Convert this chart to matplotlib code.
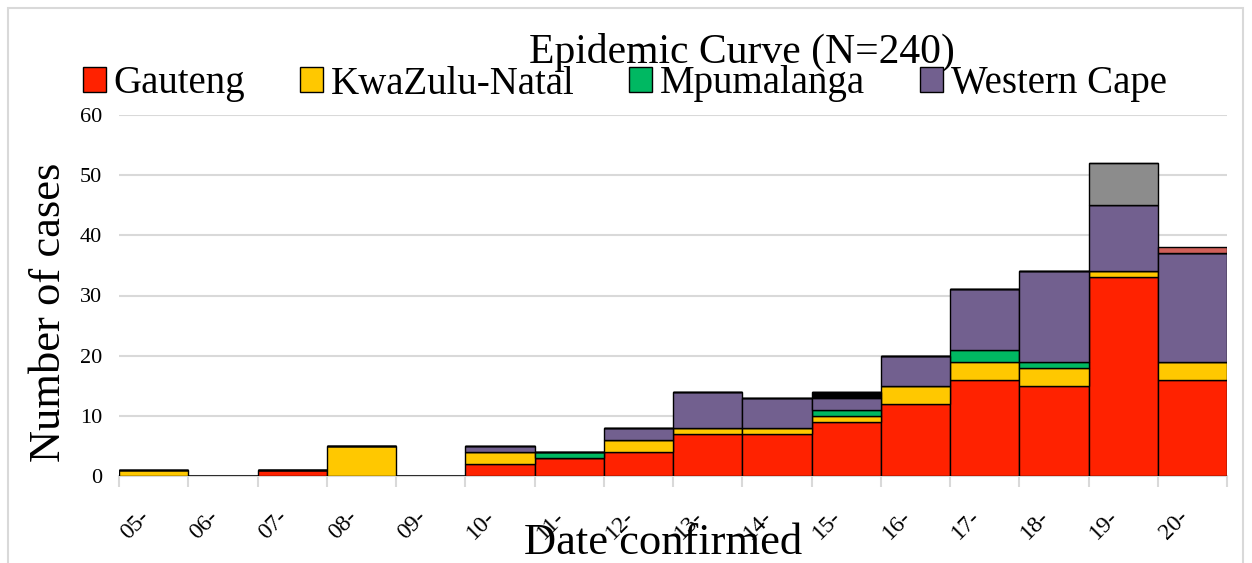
import numpy as np
import matplotlib
matplotlib.use('Agg')
import matplotlib.pyplot as plt
from matplotlib.patches import Rectangle

dates = ['05-', '06-', '07-', '08-', '09-', '10-', '11-', '12-',
         '13-', '14-', '15-', '16-', '17-', '18-', '19-', '20-']
gauteng = [0, 0, 1, 0, 0, 2, 3, 4, 7, 7, 9, 12, 16, 15, 33, 16]
kzn = [1, 0, 0, 5, 0, 2, 0, 2, 1, 1, 1, 3, 3, 3, 1, 3]
mpumalanga = [0, 0, 0, 0, 0, 0, 1, 0, 0, 0, 1, 0, 2, 1, 0, 0]
western_cape = [0, 0, 0, 0, 0, 1, 0, 2, 6, 5, 2, 5, 10, 15, 11, 18]
# extra series drawn in the chart but missing from the legend
other_black = [0, 0, 0, 0, 0, 0, 0, 0, 0, 0, 1, 0, 0, 0, 0, 0]
other_grey = [0, 0, 0, 0, 0, 0, 0, 0, 0, 0, 0, 0, 0, 0, 7, 0]
other_red = [0, 0, 0, 0, 0, 0, 0, 0, 0, 0, 0, 0, 0, 0, 0, 1]

series = [
    ('Gauteng', gauteng, '#ff2200'),
    ('KwaZulu-Natal', kzn, '#ffc800'),
    ('Mpumalanga', mpumalanga, '#00b862'),
    ('Western Cape', western_cape, '#72608f'),
    (None, other_black, '#000000'),
    (None, other_grey, '#8c8c8c'),
    (None, other_red, '#d0605a'),
]

plt.rcParams['font.family'] = ['Liberation Serif', 'DejaVu Serif']

fig = plt.figure(figsize=(12.52, 5.63), dpi=100)
fig.patches.append(Rectangle((8 / 1252, -0.1), 1235 / 1252, 1.1 - 8 / 563,
                             transform=fig.transFigure, fill=False,
                             edgecolor='#d9d9d9', linewidth=1.5))
ax = fig.add_axes([119 / 1252, (563 - 476) / 563, 1108 / 1252, 361 / 563])

x = np.arange(len(dates))
bottom = np.zeros(len(dates))
for name, vals, color in series:
    vals = np.array(vals, dtype=float)
    ax.bar(x, vals, width=1.0, bottom=bottom, color=color, edgecolor='black',
           linewidth=1.0, label=name if name else '_nolegend_', zorder=3)
    bottom += vals

ax.set_xlim(-0.5, len(dates) - 0.5)
ax.set_ylim(0, 60)
ax.set_yticks(range(0, 61, 10))
ax.yaxis.grid(True, color='#d9d9d9', linewidth=1.5, zorder=0)
ax.tick_params(axis='y', length=0, labelsize=16, pad=12)

ax.set_xticks(x)
ax.set_xticklabels(dates, rotation=45, ha='right', fontsize=17)
ax.set_xticks(np.arange(-0.5, len(dates), 1.0), minor=True)
ax.tick_params(axis='x', which='major', length=0, pad=22)
ax.tick_params(axis='x', which='minor', length=8, color='#d9d9d9', width=1.5)

for s in ['top', 'right', 'left']:
    ax.spines[s].set_visible(False)
ax.spines['bottom'].set_color('#d9d9d9')
ax.spines['bottom'].set_linewidth(1.5)

ax.set_ylabel('Number of cases', fontsize=32, va='center')
ax.yaxis.set_label_coords(-0.063, 0.454)
ax.set_xlabel('Date confirmed', fontsize=32, va='center')
ax.xaxis.set_label_coords(0.491, -0.186)

fig.text(742 / 1252, 1 - 52 / 563, 'Epidemic Curve (N=240)', fontsize=30,
         ha='center', va='center')
fig.legend(loc='center', bbox_to_anchor=(0.499, 1 - 84 / 563), ncol=4,
           frameon=False, fontsize=28, handlelength=0.6, handleheight=0.6,
           handletextpad=0.2, columnspacing=1.4, borderpad=0)

fig.savefig('out.png', dpi=100)
